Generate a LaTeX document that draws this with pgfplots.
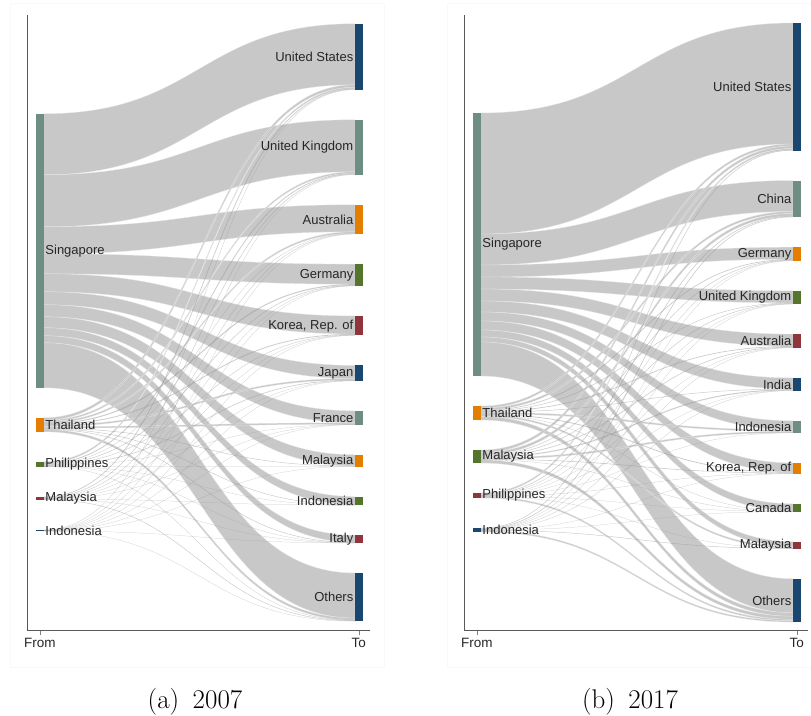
\documentclass[border=0pt]{standalone}
\usepackage{pgfplots}
\usepackage{pgfplotstable}
\pgfplotsset{compat=1.18}
\usepackage{fontspec}
\newfontfamily\arial{Liberation Sans}

\definecolor{sk0}{RGB}{26,71,111}
\definecolor{sk1}{RGB}{110,142,132}
\definecolor{sk2}{RGB}{227,126,0}
\definecolor{sk3}{RGB}{85,117,47}
\definecolor{sk4}{RGB}{144,53,59}
\definecolor{band}{RGB}{200,200,200}

% rows = exporters (in node order), columns = destinations (in node order)
\pgfplotstableread{
USA GBR AUS DEU KOR JPN FRA MYS IDN ITA OTH
61  52  27  20  18  13  12  11  8   7    45
2.5 1.5 1.5 1   0.8 1.5 1.5 0.5 0.5 0.5  2.2
1.5 0.8 0.3 0.5 0.4 0.6 0.2 0.2 0.1 0.1  0.3
0.7 0.5 0.4 0.2 0.2 0.2 0.1 0   0.1 0.1  0.5
0.3 0.2 0.2 0.1 0.1 0.1 0.1 0.1 0   0.05 0.25
}\flowsA

\pgfplotstableread{
USA CHN DEU GBR AUS IND IDN KOR CAN MYS OTH
121 31  12  12  12  11  9   9   7    5   34
2   2   0.7 0.5 0.7 0.5 1.5 0.8 0.3  1.5 3.5
2.5 2.5 0.5 0.5 0.6 1   1.5 0.6 0.3  0   3
1.5 0.6 0.3 0.2 0.2 0.1 0.1 0.3 0.1  0.2 1.4
0.5 0.6 0.1 0.1 0.3 0.3 0   0.2 0.05 0.5 1.35
}\flowsB

\tikzset{lab/.style={font=\arial\fontsize{13}{15}\selectfont, text=black!85, inner sep=1.5pt}}

% one pass over all flows: #4 = 1 draws the wide bands, #4 = 0 the thin ones
\newcommand\skpass[4]{%
  \foreach \i in {0,...,#2}{\expandafter\xdef\csname oS\i\endcsname{0}}%
  \foreach \j in {0,...,#3}{\expandafter\xdef\csname oD\j\endcsname{0}}%
  \foreach \i in {0,...,#2}{%
    \foreach \j in {0,...,#3}{%
      \pgfplotstablegetelem{\i}{[index]\j}\of{#1}%
      \edef\skv{\pgfplotsretval}%
      \edef\ska{\csname tS\i\endcsname}\edef\skoa{\csname oS\i\endcsname}%
      \edef\skb{\csname tD\j\endcsname}\edef\skob{\csname oD\j\endcsname}%
      \pgfmathsetmacro\skya{-(\ska+\skoa)}%
      \pgfmathsetmacro\skyb{-(\skb+\skob)}%
      \pgfmathsetmacro\skyA{\skya-\skv}%
      \pgfmathsetmacro\skyB{\skyb-\skv}%
      \pgfmathtruncatemacro\skbig{\skv>1.2 ? 1 : 0}%
      \pgfmathtruncatemacro\skpos{\skv>0 ? 1 : 0}%
      \ifnum\skpos=1
        \ifnum\skbig=#4
          \ifnum\skbig=1
            \fill[band, draw=white!50!band, line width=0.3pt]
              (axis cs:0.012,\skya) .. controls (axis cs:0.5,\skya) and (axis cs:0.5,\skyb)
              .. (axis cs:0.988,\skyb) -- (axis cs:0.988,\skyB)
              .. controls (axis cs:0.5,\skyB) and (axis cs:0.5,\skyA) .. (axis cs:0.012,\skyA) -- cycle;
          \else
            \pgfmathsetmacro\skc{(\skya+\skyA)/2}%
            \pgfmathsetmacro\skd{(\skyb+\skyB)/2}%
            \pgfmathsetmacro\skw{max(\skv,0.25)}%
            \draw[black!40, opacity=0.5, line width=\skw pt]
              (axis cs:0.012,\skc) .. controls (axis cs:0.5,\skc) and (axis cs:0.5,\skd) .. (axis cs:0.988,\skd);
          \fi
        \fi
      \fi
      \pgfmathsetmacro\skn{\skoa+\skv}\expandafter\xdef\csname oS\i\endcsname{\skn}%
      \pgfmathsetmacro\skn{\skob+\skv}\expandafter\xdef\csname oD\j\endcsname{\skn}%
    }}%
}

% #1 table, #2 last exporter index, #3 last destination index, #4 exporters, #5 destinations
\newcommand\sankey[5]{%
  \pgfplotsextra{%
    % node sizes
    \foreach \i in {0,...,#2}{%
      \gdef\skacc{0}%
      \foreach \j in {0,...,#3}{%
        \pgfplotstablegetelem{\i}{[index]\j}\of{#1}%
        \pgfmathsetmacro\skt{\skacc+\pgfplotsretval}\global\let\skacc\skt}%
      \expandafter\xdef\csname sS\i\endcsname{\skacc}}%
    \foreach \j in {0,...,#3}{%
      \gdef\skacc{0}%
      \foreach \i in {0,...,#2}{%
        \pgfplotstablegetelem{\i}{[index]\j}\of{#1}%
        \pgfmathsetmacro\skt{\skacc+\pgfplotsretval}\global\let\skacc\skt}%
      \expandafter\xdef\csname sD\j\endcsname{\skacc}}%
    % node tops, each column centred, gap 30
    \gdef\skacc{0}%
    \foreach \i in {0,...,#2}{\edef\sku{\csname sS\i\endcsname}%
      \pgfmathsetmacro\skt{\skacc+\sku}\global\let\skacc\skt}%
    \pgfmathsetmacro\sktop{322.5-(\skacc+#2*30)/2}\global\let\skrun\sktop
    \foreach \i in {0,...,#2}{\expandafter\xdef\csname tS\i\endcsname{\skrun}%
      \edef\sku{\csname sS\i\endcsname}%
      \pgfmathsetmacro\skt{\skrun+\sku+30}\global\let\skrun\skt}%
    \gdef\skacc{0}%
    \foreach \j in {0,...,#3}{\edef\sku{\csname sD\j\endcsname}%
      \pgfmathsetmacro\skt{\skacc+\sku}\global\let\skacc\skt}%
    \pgfmathsetmacro\sktop{322.5-(\skacc+#3*30)/2}\global\let\skrun\sktop
    \foreach \j in {0,...,#3}{\expandafter\xdef\csname tD\j\endcsname{\skrun}%
      \edef\sku{\csname sD\j\endcsname}%
      \pgfmathsetmacro\skt{\skrun+\sku+30}\global\let\skrun\skt}%
    % flows
    \skpass{#1}{#2}{#3}{1}%
    \skpass{#1}{#2}{#3}{0}%
    % nodes
    \foreach \nm [count=\c from 0] in {#4}{%
      \edef\skt{\csname tS\c\endcsname}\edef\sku{\csname sS\c\endcsname}%
      \pgfmathsetmacro\skya{-\skt}\pgfmathsetmacro\skyA{-(\skt+\sku)}%
      \pgfmathsetmacro\skym{-(\skt+\sku/2)}%
      \pgfmathtruncatemacro\ci{mod(\c+1,5)}%
      \fill[sk\ci] (axis cs:-0.012,\skya) rectangle (axis cs:0.012,\skyA);
      \node[lab, anchor=west] at (axis cs:0.012,\skym) {\nm};}%
    \foreach \nm [count=\c from 0] in {#5}{%
      \edef\skt{\csname tD\c\endcsname}\edef\sku{\csname sD\c\endcsname}%
      \pgfmathsetmacro\skya{-\skt}\pgfmathsetmacro\skyA{-(\skt+\sku)}%
      \pgfmathsetmacro\skym{-(\skt+\sku/2)}%
      \pgfmathtruncatemacro\ci{mod(\c,5)}%
      \fill[sk\ci] (axis cs:0.988,\skya) rectangle (axis cs:1.012,\skyA);
      \node[lab, anchor=east] at (axis cs:0.988,\skym) {\nm};}%
  }%
}

\pgfplotsset{sankeyaxis/.style={
  anchor=south west, scale only axis, height=615pt,
  xmin=-0.0405, xmax=1.035, ymin=-630, ymax=-15,
  axis x line=bottom, axis y line=left,
  axis line style={-, black!65, line width=0.6pt},
  xtick={0,1}, xticklabels={From,To}, ytick=\empty,
  tick align=outside, major tick length=5pt,
  tick style={black!50, line width=0.6pt},
  xticklabel style={font=\arial\fontsize{13.5}{15}\selectfont, text=black!85},
  clip=false}}

\begin{document}
\begin{tikzpicture}
\path[use as bounding box] (0,0) rectangle (811pt,-715pt);
\draw[black!2.5] (10pt,-3pt) rectangle (384pt,-667pt);
\draw[black!2.5] (447pt,-3pt) rectangle (811pt,-667pt);

\begin{axis}[sankeyaxis, at={(27pt,-630pt)}, width=343pt]
\sankey{\flowsA}{4}{10}{Singapore,Thailand,Philippines,Malaysia,Indonesia}%
  {United States,United Kingdom,Australia,Germany,{Korea, Rep. of},Japan,France,Malaysia,Indonesia,Italy,Others}
\end{axis}

\begin{axis}[sankeyaxis, at={(464pt,-630pt)}, width=344pt]
\sankey{\flowsB}{4}{10}{Singapore,Thailand,Malaysia,Philippines,Indonesia}%
  {United States,China,Germany,United Kingdom,Australia,India,Indonesia,{Korea, Rep. of},Canada,Malaysia,Others}
\end{axis}

\node[font=\fontsize{27}{32}\selectfont, anchor=base] at (195pt,-708pt) {(a)\enspace 2007};
\node[font=\fontsize{27}{32}\selectfont, anchor=base] at (630pt,-708pt) {(b)\enspace 2017};
\end{tikzpicture}
\end{document}
